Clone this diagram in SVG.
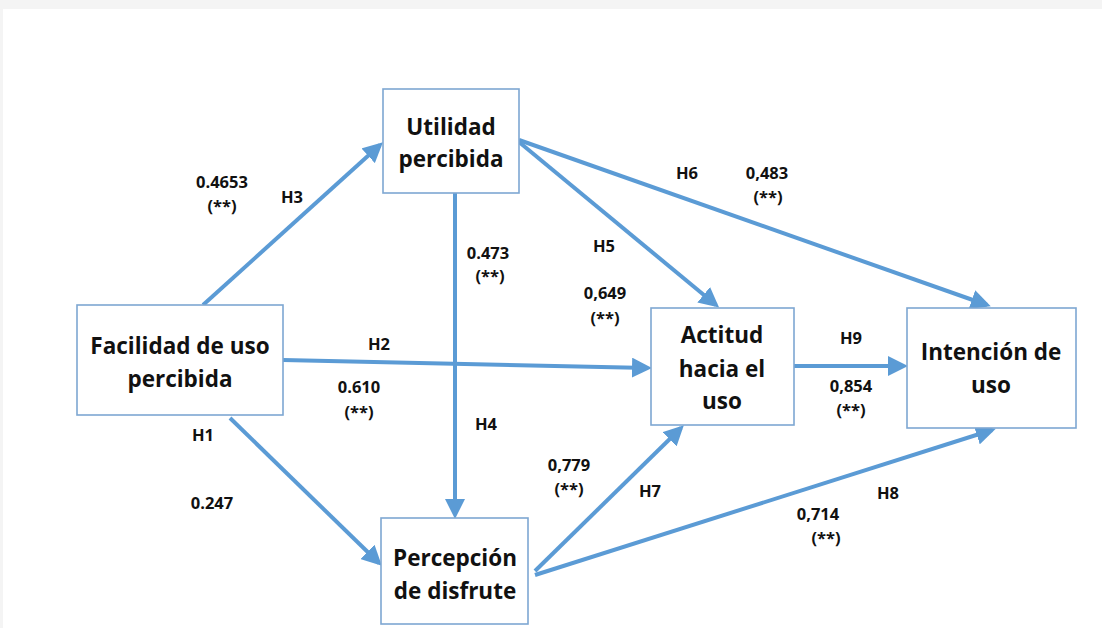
<svg xmlns="http://www.w3.org/2000/svg" width="1102" height="628" viewBox="0 0 1102 628">
<style>
.box{fill:#ffffff;stroke:#7ea7d2;stroke-width:1.6}
.bt{font-family:"Open Sans","Liberation Sans",sans-serif;font-weight:700;font-size:22.5px;fill:#111;text-anchor:middle}
.lb{font-family:"Open Sans","Liberation Sans",sans-serif;font-weight:700;font-size:16.5px;fill:#111;text-anchor:middle}
.c{stroke:#5b9bd5;stroke-width:4;fill:none;marker-end:url(#ah)}
</style>
<defs>
<marker id="ah" markerWidth="5" markerHeight="5" refX="4" refY="2.5" orient="auto" markerUnits="strokeWidth">
<path d="M0,0 L5,2.5 L0,5 Z" fill="#5b9bd5"/>
</marker>
</defs>
<rect x="0" y="0" width="1102" height="628" fill="#f4f4f4"/>
<rect x="3" y="9" width="1099" height="619" fill="#ffffff"/>

<g id="connectors">
<line class="c" x1="203" y1="305" x2="380" y2="145"/>
<line class="c" x1="455" y1="193" x2="455" y2="515"/>
<line class="c" x1="519" y1="142" x2="716" y2="305"/>
<line class="c" x1="519" y1="140" x2="987" y2="305"/>
<line class="c" x1="283" y1="360" x2="648" y2="368"/>
<line class="c" x1="230" y1="418" x2="379" y2="563"/>
<line class="c" x1="535" y1="571" x2="681" y2="428"/>
<line class="c" x1="535" y1="575" x2="992" y2="430"/>
<line class="c" x1="794" y1="366" x2="904" y2="366"/>
</g>

<g id="utilidad">
<rect class="box" x="383" y="89" width="136" height="104"/>
<text class="bt" x="451" y="135">Utilidad</text>
<text class="bt" x="451" y="167">percibida</text>
</g>
<g id="facilidad">
<rect class="box" x="77" y="305" width="206" height="110"/>
<text class="bt" x="180" y="354">Facilidad de uso</text>
<text class="bt" x="180" y="387">percibida</text>
</g>
<g id="actitud">
<rect class="box" x="651" y="308" width="143" height="117"/>
<text class="bt" x="722" y="343">Actitud</text>
<text class="bt" x="722" y="377">hacia el</text>
<text class="bt" x="722" y="409">uso</text>
</g>
<g id="intencion">
<rect class="box" x="907" y="308" width="169" height="120"/>
<text class="bt" x="991" y="360">Intención de</text>
<text class="bt" x="991" y="393">uso</text>
</g>
<g id="percepcion">
<rect class="box" x="381" y="518" width="147" height="106"/>
<text class="bt" x="455" y="566">Percepción</text>
<text class="bt" x="455" y="599">de disfrute</text>
</g>

<g id="labels">
<text class="lb" x="222" y="188">0.4653</text>
<text class="lb" x="222" y="212">(**)</text>
<text class="lb" x="292" y="203">H3</text>
<text class="lb" x="488" y="259">0.473</text>
<text class="lb" x="490" y="282">(**)</text>
<text class="lb" x="604" y="252">H5</text>
<text class="lb" x="605" y="299">0,649</text>
<text class="lb" x="605" y="324">(**)</text>
<text class="lb" x="687" y="179">H6</text>
<text class="lb" x="767" y="179">0,483</text>
<text class="lb" x="768" y="203">(**)</text>
<text class="lb" x="379" y="350">H2</text>
<text class="lb" x="359" y="393">0.610</text>
<text class="lb" x="359" y="418">(**)</text>
<text class="lb" x="203" y="441">H1</text>
<text class="lb" x="212" y="509">0.247</text>
<text class="lb" x="486" y="430">H4</text>
<text class="lb" x="569" y="471">0,779</text>
<text class="lb" x="569" y="495">(**)</text>
<text class="lb" x="650" y="497">H7</text>
<text class="lb" x="888" y="499">H8</text>
<text class="lb" x="818" y="520">0,714</text>
<text class="lb" x="826" y="544">(**)</text>
<text class="lb" x="851" y="344">H9</text>
<text class="lb" x="851" y="392">0,854</text>
<text class="lb" x="851" y="416">(**)</text>
</g>
</svg>
